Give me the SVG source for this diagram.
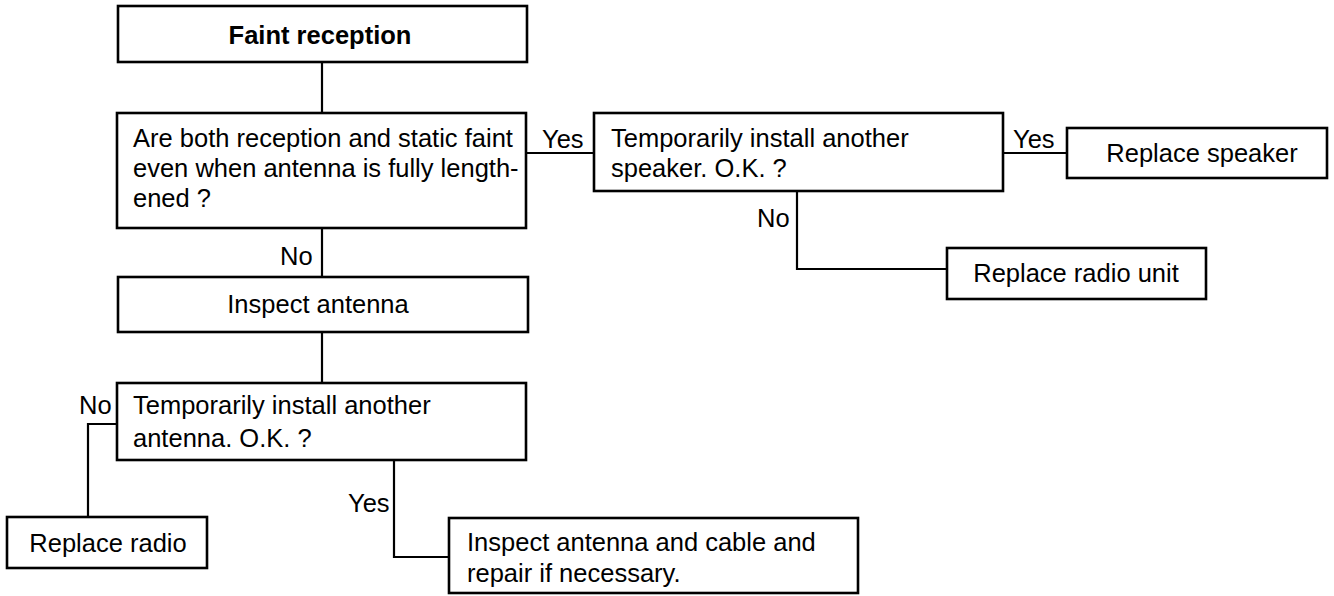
<svg xmlns="http://www.w3.org/2000/svg" width="1334" height="596" viewBox="0 0 1334 596">
<style>
.box{fill:#fff;stroke:#000;stroke-width:2.6}
.t{font-family:"Liberation Sans",Arial,Helvetica,sans-serif;font-size:25.5px;fill:#000}
.b{font-weight:bold}
.c{fill:none;stroke:#000;stroke-width:2.2}
</style>
<rect width="1334" height="596" fill="#fff"/>
<g id="connectors">
<line class="c" x1="322" y1="62" x2="322" y2="113"/>
<line class="c" x1="322" y1="228" x2="322" y2="277"/>
<line class="c" x1="322" y1="332" x2="322" y2="383"/>
<line class="c" x1="526" y1="153" x2="594" y2="153"/>
<line class="c" x1="1002" y1="153" x2="1067" y2="153"/>
<polyline class="c" points="797,191 797,269 947,269"/>
<polyline class="c" points="117,424 88,424 88,517"/>
<polyline class="c" points="394,460 394,557 449,557"/>
<text class="t" x="542" y="148">Yes</text>
<text class="t" x="1013" y="148">Yes</text>
<text class="t" x="280" y="265">No</text>
<text class="t" x="757" y="227">No</text>
<text class="t" x="79" y="414">No</text>
<text class="t" x="348" y="512">Yes</text>
</g>
<g id="faint">
<rect class="box" x="118" y="6" width="409" height="56"/>
<text class="t b" x="320" y="44" text-anchor="middle">Faint reception</text>
</g>
<g id="q1">
<rect class="box" x="117" y="113" width="409" height="115"/>
<text class="t" x="133" y="147">Are both reception and static faint</text>
<text class="t" x="133" y="177">even when antenna is fully length-</text>
<text class="t" x="133" y="207">ened ?</text>
</g>
<g id="inspect">
<rect class="box" x="118" y="277" width="410" height="55"/>
<text class="t" x="318" y="313" text-anchor="middle">Inspect antenna</text>
</g>
<g id="q_antenna">
<rect class="box" x="117" y="383" width="409" height="77"/>
<text class="t" x="133" y="414">Temporarily install another</text>
<text class="t" x="133" y="447">antenna. O.K. ?</text>
</g>
<g id="replace_radio">
<rect class="box" x="7" y="517" width="200" height="51"/>
<text class="t" x="108" y="552" text-anchor="middle">Replace radio</text>
</g>
<g id="inspect_cable">
<rect class="box" x="449" y="518" width="409" height="75"/>
<text class="t" x="467" y="551">Inspect antenna and cable and</text>
<text class="t" x="467" y="582">repair if necessary.</text>
</g>
<g id="q_speaker">
<rect class="box" x="594" y="113" width="409" height="78"/>
<text class="t" x="611" y="147">Temporarily install another</text>
<text class="t" x="611" y="177">speaker. O.K. ?</text>
</g>
<g id="replace_speaker">
<rect class="box" x="1067" y="128" width="260" height="50"/>
<text class="t" x="1202" y="162" text-anchor="middle">Replace speaker</text>
</g>
<g id="replace_radio_unit">
<rect class="box" x="947" y="248" width="259" height="51"/>
<text class="t" x="1076" y="282" text-anchor="middle">Replace radio unit</text>
</g>
</svg>
